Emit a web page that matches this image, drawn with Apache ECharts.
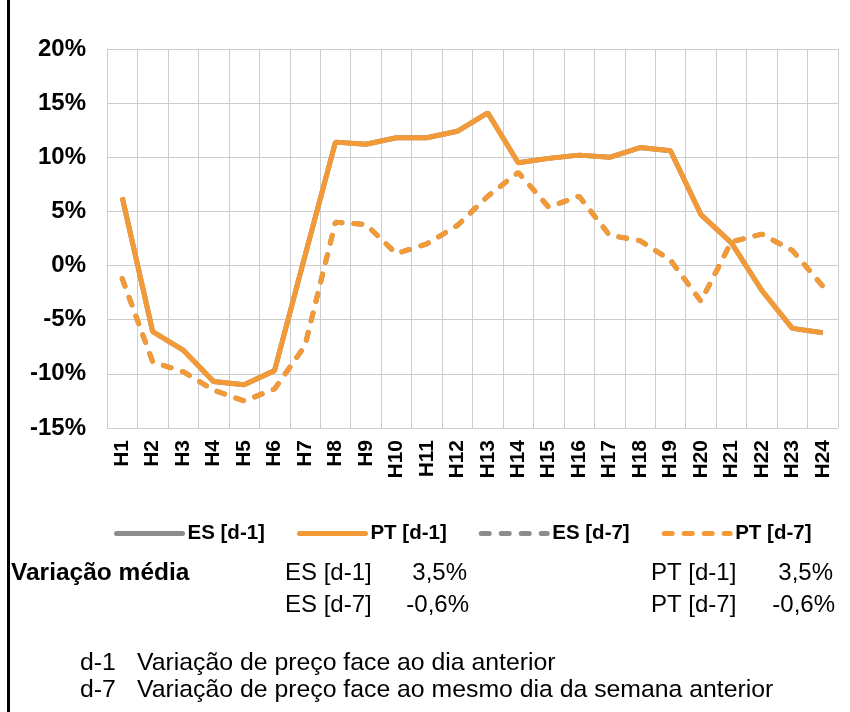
<!DOCTYPE html>
<html>
<head>
<meta charset="utf-8">
<script src="https://cdn.jsdelivr.net/npm/echarts@6/dist/echarts.min.js"></script>
<style>
html, body { margin: 0; padding: 0; background: #fff; }
#chart { width: 850px; height: 712px; }
</style>
</head>
<body>
<div id="chart"></div>
<script>
// dados (%)
var horas = ['H1','H2','H3','H4','H5','H6','H7','H8','H9','H10','H11','H12',
	'H13','H14','H15','H16','H17','H18','H19','H20','H21','H22','H23','H24'];
var ptD1 = [6.3, -6.1, -7.8, -10.7, -11.0, -9.7, 0.9, 11.4, 11.2, 11.8, 11.8, 12.4,
	14.1, 9.5, 9.9, 10.2, 10.0, 10.9, 10.6, 4.7, 2.1, -2.3, -5.8, -6.2];
var ptD7 = [-1.2, -8.9, -9.8, -11.5, -12.5, -11.4, -7.4, 4.0, 3.8, 1.1, 2.0, 3.7,
	6.4, 8.6, 5.4, 6.4, 2.8, 2.3, 0.5, -3.3, 2.2, 2.9, 1.4, -1.9];
// ES coincide com PT (linhas escondidas por baixo)
var esD1 = [6.3, -6.1, -7.8, -10.7, -11.0, -9.7, 0.9, 11.4, 11.2, 11.8, 11.8, 12.4,
	14.1, 9.5, 9.9, 10.2, 10.0, 10.9, 10.6, 4.7, 2.1, -2.3, -5.8, -6.2];
var esD7 = [-1.2, -8.9, -9.8, -11.5, -12.5, -11.4, -7.4, 4.0, 3.8, 1.1, 2.0, 3.7,
	6.4, 8.6, 5.4, 6.4, 2.8, 2.3, 0.5, -3.3, 2.2, 2.9, 1.4, -1.9];
var nomes = ['ES [d-1]', 'PT [d-1]', 'ES [d-7]', 'PT [d-7]'];
var mediaD1 = ['3,5%', '3,5%'];
var mediaD7 = ['-0,6%', '-0,6%'];

var laranja = '#f39a36';
var cinza = '#8c8c8c';
var grelha = '#cccccc';
var fonte = '"Liberation Sans", Arial, sans-serif';
var tracejado = [8, 12];

var myChart = echarts.init(document.getElementById('chart'));

var txt = function(x, y, s, size, bold, align) {
	return {
		type: 'text', x: x, y: y, silent: true,
		style: {
			text: s, fill: '#000', font: (bold ? 'bold ' : '') + size + 'px ' + fonte,
			textAlign: align || 'left', textVerticalAlign: 'middle'
		}
	};
};

var option = {
	backgroundColor: '#fff',
	animation: false,
	grid: { left: 107, right: 12, top: 49, bottom: 284, containLabel: false },
	legend: {
		left: 109, top: 518,
		itemWidth: 66, itemHeight: 16, itemGap: 32,
		itemStyle: { opacity: 0 },
		lineStyle: { width: 5, cap: 'round' },
		textStyle: { fontFamily: fonte, fontWeight: 'bold', fontSize: 20.5, color: '#000' },
		data: nomes
	},
	xAxis: {
		type: 'category',
		data: horas,
		boundaryGap: true,
		axisTick: { show: false },
		axisLine: { lineStyle: { color: grelha, width: 1 } },
		splitLine: { show: true, lineStyle: { color: grelha, width: 1 } },
		axisLabel: {
			rotate: 90, margin: 12, interval: 0,
			fontFamily: fonte, fontWeight: 'bold', fontSize: 21, color: '#000'
		}
	},
	yAxis: {
		type: 'value',
		min: -15, max: 20, interval: 5,
		axisLine: { show: true, lineStyle: { color: grelha, width: 1 } },
		axisTick: { show: false },
		splitLine: { lineStyle: { color: grelha, width: 1 } },
		axisLabel: {
			margin: 21, formatter: '{value}%',
			fontFamily: fonte, fontWeight: 'bold', fontSize: 24, color: '#000'
		}
	},
	series: [
		{ name: nomes[0], type: 'line', data: esD1, symbol: 'none', color: cinza,
			lineStyle: { width: 5, color: cinza } },
		{ name: nomes[2], type: 'line', data: esD7, symbol: 'none', color: cinza,
			lineStyle: { width: 5, color: cinza, type: tracejado, cap: 'round' } },
		{ name: nomes[3], type: 'line', data: ptD7, symbol: 'none', color: laranja,
			lineStyle: { width: 5, color: laranja, type: tracejado, cap: 'round' } },
		{ name: nomes[1], type: 'line', data: ptD1, symbol: 'none', color: laranja,
			lineStyle: { width: 5, color: laranja } }
	],
	graphic: [
		// barra preta à esquerda
		{ type: 'rect', silent: true, shape: { x: 7, y: 0, width: 3, height: 712 },
			style: { fill: '#000' } },
		txt(11, 573, 'Variação média', 24.5, true),
		txt(285, 573, nomes[0], 24, false),
		txt(467, 573, mediaD1[0], 24, false, 'right'),
		txt(285, 605, nomes[2], 24, false),
		txt(469, 605, mediaD7[0], 24, false, 'right'),
		txt(651, 573, nomes[1], 24, false),
		txt(833, 573, mediaD1[1], 24, false, 'right'),
		txt(651, 605, nomes[3], 24, false),
		txt(835, 605, mediaD7[1], 24, false, 'right'),
		txt(80, 663, 'd-1', 24.8, false),
		txt(137, 663, 'Variação de preço face ao dia anterior', 24.8, false),
		txt(80, 690, 'd-7', 24.8, false),
		txt(137, 690, 'Variação de preço face ao mesmo dia da semana anterior', 24.8, false)
	]
};
myChart.setOption(option);
</script>
</body>
</html>
